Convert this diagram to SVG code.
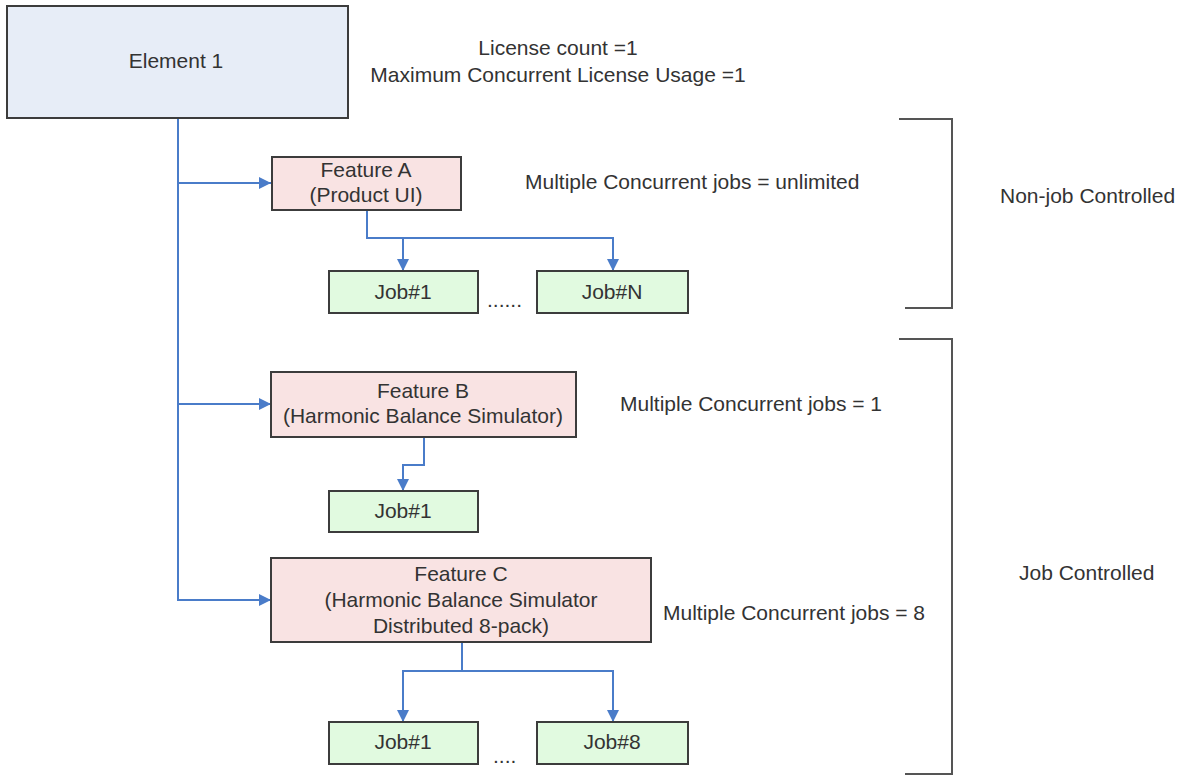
<svg xmlns="http://www.w3.org/2000/svg" width="1184" height="776" viewBox="0 0 1184 776">
<defs>
<style>
.t{font-family:"Liberation Sans",Arial,sans-serif;font-size:21px;fill:#333333}
.c{text-anchor:middle}
.box{stroke:#3c3c3c;stroke-width:2}
.el{fill:#e7edf7}
.ft{fill:#f9e3e3}
.jb{fill:#e1fae0}
.cn{fill:none;stroke:#4a7cc9;stroke-width:2}
.br{fill:none;stroke:#555555;stroke-width:2}
</style>
<marker id="ah" viewBox="0 0 12 12" refX="12" refY="6" markerWidth="12" markerHeight="12" markerUnits="userSpaceOnUse" orient="auto">
<path d="M0,0 L12,6 L0,12 z" fill="#4a7cc9"/>
</marker>
</defs>
<rect width="1184" height="776" fill="#ffffff"/>

<g id="connectors">
<path class="cn" d="M178,118 V600 H271" marker-end="url(#ah)"/>
<path class="cn" d="M178,183 H271" marker-end="url(#ah)"/>
<path class="cn" d="M178,404 H271" marker-end="url(#ah)"/>
<path class="cn" d="M367,210 V238 H613 V271" marker-end="url(#ah)"/>
<path class="cn" d="M403,238 V271" marker-end="url(#ah)"/>
<path class="cn" d="M424,437 V465 H403 V491" marker-end="url(#ah)"/>
<path class="cn" d="M462,642 V671 H613 V722" marker-end="url(#ah)"/>
<path class="cn" d="M462,671 H403 V722" marker-end="url(#ah)"/>
</g>

<g id="element1">
<rect class="box el" x="7" y="6" width="341" height="112"/>
<text class="t c" x="176" y="68">Element 1</text>
</g>

<g id="license-info">
<text class="t c" x="558" y="55">License count =1</text>
<text class="t c" x="558" y="82">Maximum Concurrent License Usage =1</text>
</g>

<g id="featureA">
<rect class="box ft" x="272" y="157" width="189" height="53"/>
<text class="t c" x="366" y="177">Feature A</text>
<text class="t c" x="366" y="202">(Product UI)</text>
</g>
<text class="t" x="525" y="189">Multiple Concurrent jobs = unlimited</text>

<g id="jobA1">
<rect class="box jb" x="329" y="271" width="149" height="42"/>
<text class="t c" x="403" y="299">Job#1</text>
</g>
<text class="t" x="487" y="307">......</text>
<g id="jobAN">
<rect class="box jb" x="537" y="271" width="151" height="42"/>
<text class="t c" x="612" y="299">Job#N</text>
</g>

<g id="featureB">
<rect class="box ft" x="271" y="372" width="305" height="65"/>
<text class="t c" x="423" y="398">Feature B</text>
<text class="t c" x="423" y="423">(Harmonic Balance Simulator)</text>
</g>
<text class="t" x="620" y="411">Multiple Concurrent jobs = 1</text>

<g id="jobB1">
<rect class="box jb" x="329" y="491" width="149" height="41"/>
<text class="t c" x="403" y="518">Job#1</text>
</g>

<g id="featureC">
<rect class="box ft" x="271" y="558" width="380" height="84"/>
<text class="t c" x="461" y="581">Feature C</text>
<text class="t c" x="461" y="607">(Harmonic Balance Simulator</text>
<text class="t c" x="461" y="633">Distributed 8-pack)</text>
</g>
<text class="t" x="663" y="620">Multiple Concurrent jobs = 8</text>

<g id="jobC1">
<rect class="box jb" x="329" y="722" width="149" height="42"/>
<text class="t c" x="403" y="749">Job#1</text>
</g>
<text class="t" x="493" y="763">....</text>
<g id="jobC8">
<rect class="box jb" x="537" y="722" width="151" height="42"/>
<text class="t c" x="612" y="749">Job#8</text>
</g>

<g id="bracket-nonjob">
<path class="br" d="M899,119 H952 V308 H905"/>
<text class="t" x="1000" y="203">Non-job Controlled</text>
</g>
<g id="bracket-job">
<path class="br" d="M899,339 H952 V774 H905"/>
<text class="t" x="1019" y="580">Job Controlled</text>
</g>
</svg>
